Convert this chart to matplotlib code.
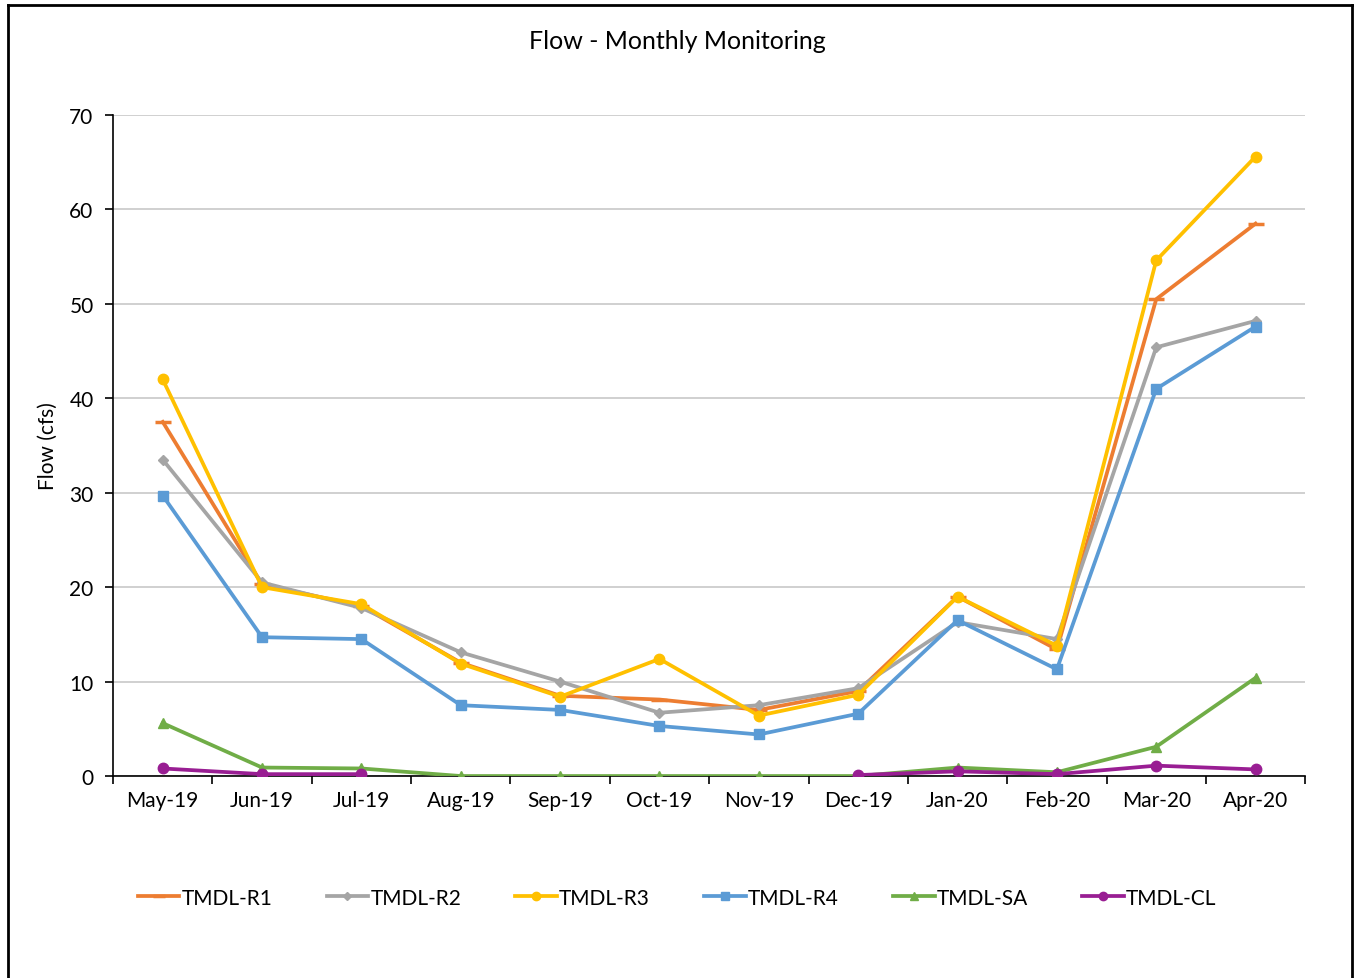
import numpy as np
import matplotlib
matplotlib.use('Agg')
import matplotlib.pyplot as plt
from matplotlib.lines import Line2D

plt.rcParams['font.family'] = ['Lato', 'DejaVu Sans']

months = ['May-19', 'Jun-19', 'Jul-19', 'Aug-19', 'Sep-19', 'Oct-19',
          'Nov-19', 'Dec-19', 'Jan-20', 'Feb-20', 'Mar-20', 'Apr-20']
r1 = [37.5, 20.3, 18.0, 12.0, 8.5, 8.1, 7.0, 9.0, 19.0, 13.4, 50.5, 58.5]
r2 = [33.5, 20.5, 17.8, 13.1, 10.0, 6.7, 7.5, 9.3, 16.3, 14.5, 45.4, 48.2]
r3 = [42.0, 20.0, 18.2, 11.9, 8.4, 12.4, 6.4, 8.6, 19.0, 13.8, 54.6, 65.6]
r4 = [29.7, 14.7, 14.5, 7.5, 7.0, 5.3, 4.4, 6.6, 16.5, 11.3, 41.0, 47.6]
sa = [5.6, 0.9, 0.8, 0.0, 0.0, 0.0, 0.0, 0.0, 0.9, 0.4, 3.1, 10.4]
cl = [0.8, 0.2, 0.2, np.nan, np.nan, np.nan, np.nan, 0.1, 0.5, 0.2, 1.1, 0.7]

series = [
    ('TMDL-R1', r1, '#ED7D31', '_', 11),
    ('TMDL-R2', r2, '#A5A5A5', 'D', 5),
    ('TMDL-R3', r3, '#FFC000', 'o', 7.5),
    ('TMDL-R4', r4, '#5B9BD5', 's', 7.5),
    ('TMDL-SA', sa, '#70AD47', '^', 7.5),
    ('TMDL-CL', cl, '#991E93', 'o', 7.5),
]

fig = plt.figure(figsize=(13.54, 9.79), dpi=100)
ax = fig.add_axes([0.0835, 0.2063, 0.8805, 0.6752])
x = np.arange(len(months))
for name, vals, col, mk, ms in series:
    ax.plot(x, vals, color=col, lw=2.7, marker=mk, markersize=ms,
            markeredgewidth=2.5 if mk == '_' else 1, label=name, zorder=3)

ax.set_xlim(-0.5, len(months) - 0.5)
ax.set_ylim(0, 70)
ax.set_yticks(range(0, 71, 10))
ax.set_xticks(x)
ax.set_xticklabels(months)
ax.set_xticks(np.arange(-0.5, len(months), 1), minor=True)
ax.tick_params(axis='x', which='major', length=0, pad=10, labelsize=15)
ax.tick_params(axis='x', which='minor', length=6, width=1.2, direction='out')
ax.tick_params(axis='y', length=6, width=1.2, pad=8, labelsize=15)
ax.grid(axis='y', color='#C8C8C8', lw=1.2, zorder=0)
ax.set_axisbelow(True)
for s in ['top', 'right']:
    ax.spines[s].set_visible(False)
ax.spines['left'].set_linewidth(1.2)
ax.spines['bottom'].set_linewidth(1.2)
ax.set_ylabel('Flow (cfs)', fontsize=15, labelpad=8)

fig.text(0.5, 0.958, 'Flow - Monthly Monitoring', ha='center', va='center', fontsize=18)

ax.legend(loc='center', bbox_to_anchor=(0.5, 0.082), bbox_transform=fig.transFigure,
          ncol=6, frameon=False, fontsize=15, handlelength=2.0, handletextpad=0.1,
          columnspacing=2.6, markerscale=0.8)

# outer chart border
fig.add_artist(Line2D([8 / 1354, 8 / 1354], [0, 1 - 6 / 979], color='black', lw=2, transform=fig.transFigure))
fig.add_artist(Line2D([8 / 1354, 1352 / 1354], [1 - 6 / 979, 1 - 6 / 979], color='black', lw=2, transform=fig.transFigure))
fig.add_artist(Line2D([1352 / 1354, 1352 / 1354], [0, 1 - 6 / 979], color='black', lw=2, transform=fig.transFigure))

fig.savefig('out.png', dpi=100)
